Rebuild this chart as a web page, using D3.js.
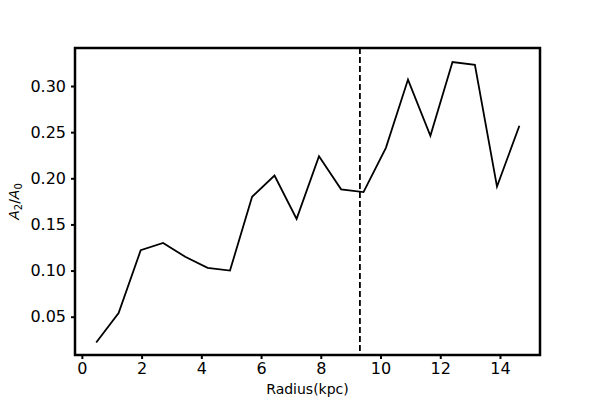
<!DOCTYPE html>
<html><head><meta charset="utf-8">
<script src="https://cdn.jsdelivr.net/npm/d3@7"></script>
<style>body{margin:0;background:#fff}svg{display:block}</style>
</head><body>
<svg id="c" width="600" height="400"></svg>
<script>
const radius = [0.48,1.23,1.97,2.72,3.46,4.21,4.96,5.70,6.45,7.19,7.94,8.68,9.43,10.18,10.92,11.67,12.41,13.16,13.90,14.65];
const a2a0 = [0.022,0.054,0.122,0.130,0.115,0.103,0.100,0.180,0.203,0.156,0.224,0.188,0.185,0.233,0.307,0.246,0.326,0.323,0.191,0.257];
const xTicks = [0,2,4,6,8,10,12,14];
const yTicks = [0.05,0.10,0.15,0.20,0.25,0.30];
const bandRadius = 9.31;

const svg = d3.select("#c");
const L=75,R=540,T=48,B=355;
const x = d3.scaleLinear().domain([-0.23,15.34]).range([L,R]);
const y = d3.scaleLinear().domain([0.0085,0.3412]).range([B,T]);
const font = "DejaVu Sans, sans-serif";

const line = d3.line().x((d,i)=>x(radius[i])).y(d=>y(d));
svg.append("path").datum(a2a0).attr("d",line).attr("fill","none")
  .attr("stroke","#000").attr("stroke-width",1.8).attr("stroke-linejoin","miter");

svg.append("line").attr("x1",x(bandRadius)).attr("x2",x(bandRadius))
  .attr("y1",T).attr("y2",B).attr("stroke","#000").attr("stroke-width",1.8)
  .attr("stroke-dasharray","6,3");

const xa = svg.append("g").attr("transform",`translate(0,${B})`)
  .call(d3.axisBottom(x).tickValues(xTicks).tickFormat(d3.format("d")).tickSize(4).tickPadding(4));
const ya = svg.append("g").attr("transform",`translate(${L},0)`)
  .call(d3.axisLeft(y).tickValues(yTicks).tickFormat(d3.format(".2f")).tickSize(4).tickPadding(5));
[xa,ya].forEach(a=>{
  a.attr("font-size",16).attr("font-family",font);
  a.select(".domain").remove();
  a.selectAll(".tick line").attr("stroke","#000").attr("stroke-width",2);
  a.selectAll(".tick text").attr("fill","#000");
});

svg.append("rect").attr("x",L).attr("y",T).attr("width",R-L).attr("height",B-T)
  .attr("fill","none").attr("stroke","#000").attr("stroke-width",2.5);

svg.append("text").attr("x",(L+R)/2).attr("y",394).attr("text-anchor","middle")
  .attr("font-family",font).attr("font-size",14).text("Radius(kpc)");

const yl = svg.append("text").attr("transform",`translate(19,${(T+B)/2}) rotate(-90)`)
  .attr("text-anchor","middle").attr("font-family",font).attr("font-size",14);
yl.append("tspan").attr("font-style","italic").text("A");
yl.append("tspan").attr("dy",3).attr("font-size",10).text("2");
yl.append("tspan").attr("dy",-3).text("/");
yl.append("tspan").attr("font-style","italic").text("A");
yl.append("tspan").attr("dy",3).attr("font-size",10).text("0");
</script>
</body></html>
